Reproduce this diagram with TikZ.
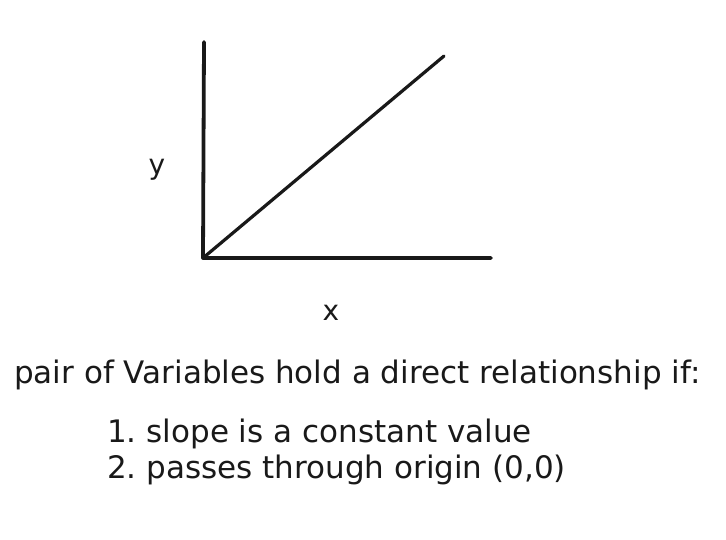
\documentclass[tikz,border=0pt]{standalone}
\usepackage{fontspec}
\setmainfont{DejaVu Sans}
\frenchspacing
\begin{document}
\begin{tikzpicture}[x=1pt,y=-1pt,
  axis/.style={line width=3.8pt,line cap=round,line join=round,black!90},
  lbl/.style={font=\fontsize{28}{30}\selectfont,text=black!90,inner sep=0pt},
  txt/.style={font=\fontsize{31}{35}\selectfont,text=black!90,inner sep=0pt,anchor=west}]
\useasboundingbox (0,0) rectangle (726,539);
\coordinate (O) at (203,258);
\coordinate (ytop) at (204,42);
\coordinate (xend) at (491,258);
\coordinate (dend) at (444,56);
\draw[axis] (ytop) -- (O) -- (xend);
\draw[axis,line width=3.2pt] (O) -- (dend);
\node[lbl] (ylab) at (157,170) {y};
\node[lbl] (xlab) at (331,313) {x};
\node[txt] (main) at (14,375) {pair of Variables hold a direct relationship if:};
\node[txt] (l1) at (107,434) {1. slope is a constant value};
\node[txt] (l2) at (107,470) {2. passes through origin (0,0)};
\end{tikzpicture}
\end{document}
